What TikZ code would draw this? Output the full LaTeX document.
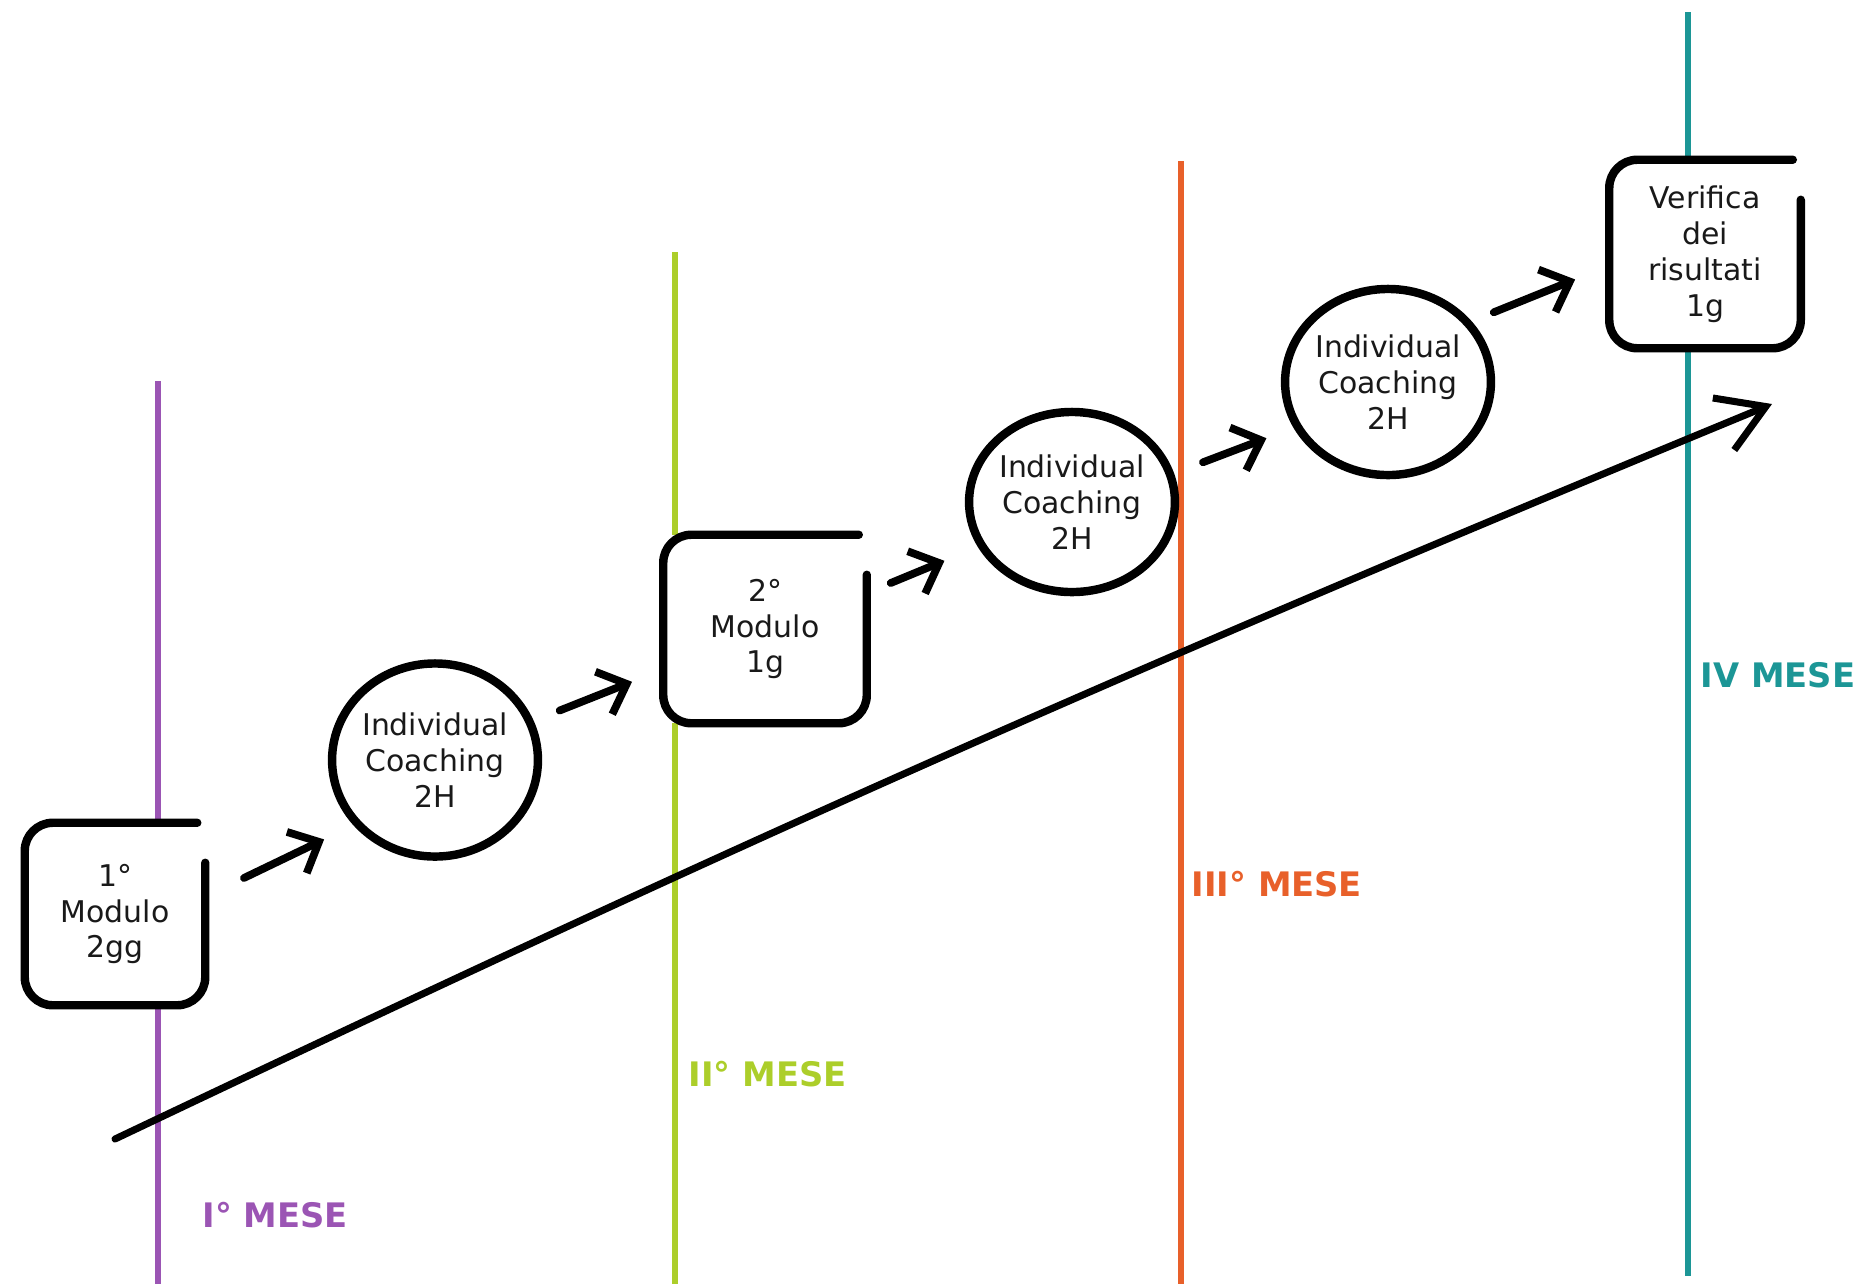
\documentclass[tikz,border=0pt]{standalone}
\usepackage{fontspec}
\setmainfont{DejaVu Sans}
\usetikzlibrary{arrows.meta,shapes.geometric,calc}
\definecolor{cpurple}{RGB}{155,85,180}
\definecolor{cgreen}{RGB}{172,206,42}
\definecolor{corange}{RGB}{232,96,42}
\definecolor{cteal}{RGB}{28,150,150}
\definecolor{ink}{RGB}{25,25,25}
\begin{document}
\begin{tikzpicture}[x=0.01cm,y=-0.01cm,
  month/.style={line width=1.8pt},
  mlabel/.style={anchor=west,inner sep=0pt,font=\fontsize{9.6}{11}\selectfont\bfseries},
  boxnode/.style={draw=none,fill=white,minimum width=1.85cm,minimum height=1.84cm,inner sep=0pt,align=center,text=ink,font=\fontsize{8.5}{10.2}\selectfont},
  circnode/.style={ellipse,draw=black,line width=2.4pt,fill=white,inner sep=0pt,align=center,text=ink,font=\fontsize{8.5}{10.2}\selectfont},
  sketch/.style={draw=black,line width=2.4pt,rounded corners=8pt,line cap=round,line join=round},
  arr/.style={draw=black,line width=2.2pt,line cap=round,-{Straight Barb[length=7pt,width=13pt,line width=2.2pt]}},
  bigarr/.style={draw=black,line width=2pt,line cap=round,-{Straight Barb[length=13pt,width=16pt,line width=2pt]}}]
\useasboundingbox (0,0) rectangle (1867,1287);
% month lines
\draw[month,cpurple] (158,381) -- (158,1284);
\draw[month,cgreen] (675,252) -- (675,1284);
\draw[month,corange] (1181,161) -- (1181,1284);
\draw[month,cteal] (1688,12) -- (1688,1276);
% month labels
\node[mlabel,text=cpurple] (l1) at (202,1215) {I° MESE};
\node[mlabel,text=cgreen] (l2) at (688,1074) {II° MESE};
\node[mlabel,text=corange] (l3) at (1191,884) {III° MESE};
\node[mlabel,text=cteal] (l4) at (1700,675) {IV MESE};
% long arrow
\coordinate (s) at (115,1139);
\coordinate (e) at (1772,404);
\draw[bigarr] (s) to[bend left=1.5] (e);
% nodes
\node[boxnode,minimum width=1.79cm,minimum height=1.81cm] (m1) at (115,914) {1°\\Modulo\\2gg};
\node[circnode,minimum width=2.05cm,minimum height=1.93cm] (c1) at (435,760) {Individual\\Coaching\\2H};
\node[boxnode,minimum width=2.02cm,minimum height=1.87cm] (m2) at (765,629) {2°\\Modulo\\1g};
\node[circnode,minimum width=2.0cm,minimum height=1.80cm] (c2) at (1072,502) {Individual\\Coaching\\2H};
\node[circnode,minimum width=2.03cm,minimum height=1.86cm] (c3) at (1388,382) {Individual\\Coaching\\2H};
\node[boxnode,minimum width=1.90cm,minimum height=1.87cm] (m3) at (1705,254) {Verifica\\dei\\risultati\\1g};
% box outlines with open top-right corner
\foreach \b in {m1,m2,m3}{
  \draw[sketch] ([xshift=-0.08cm]\b.north east) -- (\b.north west) -- (\b.south west) -- (\b.south east) -- ([yshift=-0.4cm]\b.north east);
}
% short arrows
\draw[arr,shorten <=1.43cm,shorten >=1.23cm] ([yshift=-0.26cm]m1.center) -- ([yshift=-0.26cm]c1.center);
\draw[arr,shorten <=1.34cm,shorten >=1.43cm] (c1.center) -- (m2.center);
\draw[arr,shorten <=1.36cm,shorten >=1.38cm] ([yshift=-0.06cm]m2.center) -- ([yshift=-0.06cm]c2.center);
\draw[arr,shorten <=1.40cm,shorten >=1.30cm] ([yshift=-0.10cm]c2.center) -- ([yshift=-0.10cm]c3.center);
\draw[arr,shorten <=1.14cm,shorten >=1.40cm] ([yshift=0.27cm]c3.center) -- ([yshift=0.27cm]m3.center);
\end{tikzpicture}
\end{document}
